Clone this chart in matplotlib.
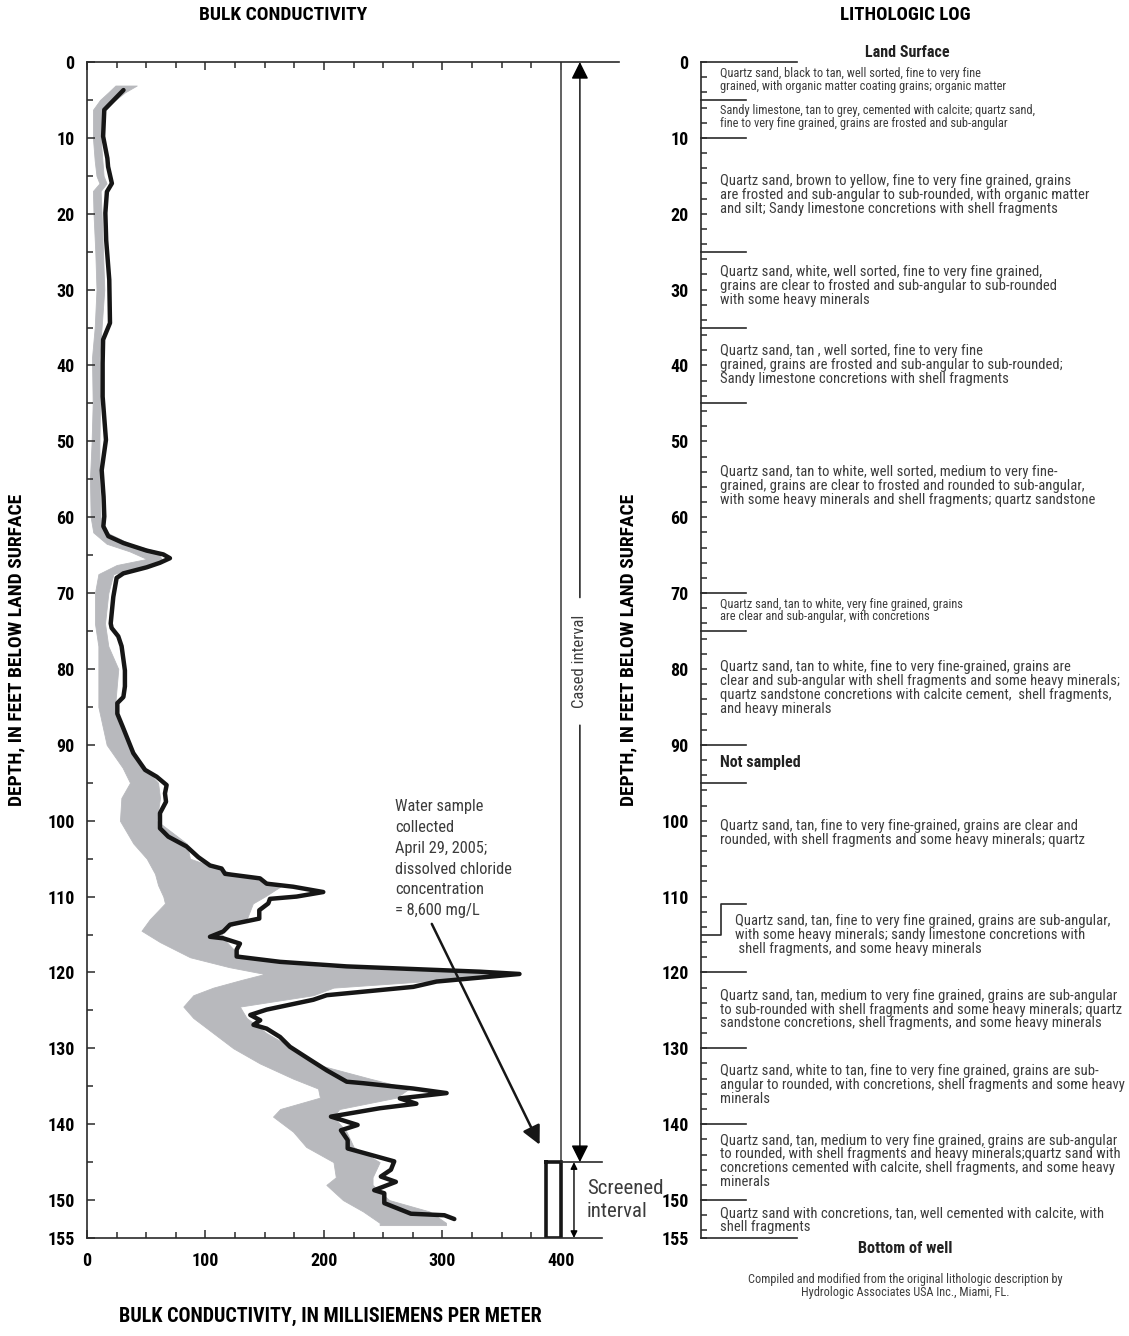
import matplotlib
matplotlib.use('Agg')
import matplotlib.pyplot as plt
from matplotlib.ticker import FixedLocator
import numpy as np

plt.rcParams['font.family'] = ['Roboto Condensed', 'Archivo Narrow', 'DejaVu Sans']

## data ##

# grey band (earlier logs), depth in feet, conductivity edges in mS/m
grey_depth = [3.1, 4.0, 5.0, 6.3, 10, 13, 15, 16, 17, 20, 25, 30, 35, 39, 45, 50, 55, 60,
              62, 63.5, 64.5, 65.5, 66.3, 67.5, 70, 74, 77, 80, 85, 90, 93, 95, 97, 100,
              103, 105, 107, 108.5, 110, 110.9, 113, 114.5, 116, 118, 119.3, 120.2, 121,
              122, 123, 124.5, 126, 128, 130, 132, 134, 135.3, 136.5, 138, 139, 141, 143,
              145, 147, 148, 150, 151.5, 153, 153.3]
grey_left = [24, 18, 11, 5, 5, 6.5, 8, 10.5, 5, 5.5, 7, 8, 6.5, 4.2, 4.8, 3.9, 2.5, 3.1,
             5.3, 16.6, 36, 50.4, 25, 9.6, 6.7, 6.7, 9.6, 9.6, 9.6, 16.6, 30, 36.3, 29, 27.8,
             39.1, 50.4, 57.4, 60, 64.4, 65.8, 53, 46, 61.6, 87, 120, 150, 130,
             106.6, 89.7, 81.3, 89.7, 106.6, 123.5, 146, 174, 195, 196.6, 163, 157, 174, 185,
             208, 210, 202, 216, 233, 247, 247]
grey_right = [42, 32, 24, 13, 11.5, 13, 14, 16.5, 11.5, 12.3, 13.5, 14.6, 12.3, 10.4, 11, 10.5, 10.4, 11.5,
              16.6, 36.3, 58.8, 63, 50, 22.2, 18, 15.2, 18, 26.4, 23.6, 36.3, 48, 60, 61.6, 58.8,
              84.1, 86.9, 123.5, 165, 150, 140, 134.7, 112.2, 117.9, 130, 200, 345, 300,
              208, 191, 129, 134.7, 151.6, 174, 191, 239, 272, 261, 213, 208, 219, 225,
              247, 241, 241, 255, 289, 303, 303]

# black curve (2005 log)
cond_depth = [3.7, 5.0, 6.3, 9.8, 12.7, 13.8, 16, 17.1, 19.9, 23.5, 28.7, 34.4, 36.6, 39.7,
              44.1, 49.8, 53.8, 57.3, 59.9, 61.2, 62.5, 63.4, 64.4, 64.9, 65.4, 66, 66.6,
              67.4, 68, 70.5, 74, 74.6, 75.7, 77, 80.2, 82.3, 83.7, 84.5, 85.9, 87.6, 91.1,
              93.3, 94.2, 95.3, 96.4, 97.5, 99, 101, 102.1, 103.4, 104.8, 105.9, 106.3, 107,
              107.6, 108.3, 108.7, 109.4, 110, 110.3, 110.9, 111.8, 112.9, 113.7, 114.6,
              115.3, 115.5, 116.2, 117, 117.9, 118.6, 119.2, 119.9, 120.2, 121.2, 121.9, 123,
              123.6, 124.9, 125.6, 126.3, 126.9, 127.4, 128.5, 129.8, 131.5, 132.9, 134.4,
              134.6, 135.3, 135.9, 136.6, 137.3, 137.9, 139, 140.1, 140.8, 142.1, 143.2,
              144.9, 146, 146.9, 147.6, 148.7, 149.1, 150.4, 151.8, 152, 152.5]
cond_value = [30.8, 22.7, 14.6, 13.6, 17.2, 17.8, 21, 16.8, 15.5, 16.2, 18.8, 19.4, 13.6, 13.2,
              13.2, 16, 12.4, 14, 14.6, 13.8, 18, 30.7, 50.4, 64.4, 70, 61.6, 50.4,
              30.7, 25, 22.2, 20, 20.8, 26.4, 29.2, 32, 32, 30.7, 25.6, 25.6, 30.1, 39.1,
              49, 58.8, 67.2, 65.8, 66.7, 61.6, 61.6, 68.6, 84.1, 93.9, 103.8, 113.6, 116.5,
              146, 151.6, 174, 199.4, 176.9, 154.4, 153, 145.4, 145.4, 120.7, 115,
              103.8, 115, 129.1, 126.3, 126.3, 162.9, 219, 331.6, 365, 295, 275.4, 202.3,
              191, 151.6, 137.8, 146.2, 140.5, 151.6, 162.9, 171.3, 188.2, 202.3, 219.2,
              233.3, 275.4, 303.5, 264, 278, 247, 205.9, 228.4, 214.3, 220, 220,
              259.3, 256.5, 248, 260.7, 242.4, 250.9, 250.9, 273.4, 301.6, 310]

# well construction
casing_bottom = 145
well_bottom = 155
casing_x = 400

# lithologic log
litho_bounds = [0, 5, 10, 25, 35, 45, 70, 75, 90, 95, 120, 130, 140, 150, 155]
litho_step = (111, 115)
litho_text = [
    "Quartz sand, black to tan, well sorted, fine to very fine\ngrained, with organic matter coating grains; organic matter",
    "Sandy limestone, tan to grey, cemented with calcite; quartz sand,\nfine to very fine grained, grains are frosted and sub-angular",
    "Quartz sand, brown to yellow, fine to very fine grained, grains\nare frosted and sub-angular to sub-rounded, with organic matter\nand silt; Sandy limestone concretions with shell fragments",
    "Quartz sand, white, well sorted, fine to very fine grained,\ngrains are clear to frosted and sub-angular to sub-rounded\nwith some heavy minerals",
    "Quartz sand, tan , well sorted, fine to very fine\ngrained, grains are frosted and sub-angular to sub-rounded;\nSandy limestone concretions with shell fragments",
    "Quartz sand, tan to white, well sorted, medium to very fine-\ngrained, grains are clear to frosted and rounded to sub-angular,\nwith some heavy minerals and shell fragments; quartz sandstone",
    "Quartz sand, tan to white, very fine grained, grains\nare clear and sub-angular, with concretions",
    "Quartz sand, tan to white, fine to very fine-grained, grains are\nclear and sub-angular with shell fragments and some heavy minerals;\nquartz sandstone concretions with calcite cement,  shell fragments,\nand heavy minerals",
    "Not sampled",
    "Quartz sand, tan, fine to very fine-grained, grains are clear and\nrounded, with shell fragments and some heavy minerals; quartz",
    "Quartz sand, tan, fine to very fine grained, grains are sub-angular,\nwith some heavy minerals; sandy limestone concretions with\n shell fragments, and some heavy minerals",
    "Quartz sand, tan, medium to very fine grained, grains are sub-angular\nto sub-rounded with shell fragments and some heavy minerals; quartz\nsandstone concretions, shell fragments, and some heavy minerals",
    "Quartz sand, white to tan, fine to very fine grained, grains are sub-\nangular to rounded, with concretions, shell fragments and some heavy\nminerals",
    "Quartz sand, tan, medium to very fine grained, grains are sub-angular\nto rounded, with shell fragments and heavy minerals;quartz sand with\nconcretions cemented with calcite, shell fragments, and some heavy\nminerals",
    "Quartz sand with concretions, tan, well cemented with calcite, with\nshell fragments",
]
litho_depth = [2.4, 7.2, 17.5, 29.5, 39.9, 55.9, 72.3, 82.5, 92.3, 101.6, 115.1, 124.9, 134.8, 144.9, 152.6]

## plot ##

GREY = '#b8b9bd'
TXT = '#3c3c3c'
SPINE = '#2a2a2a'

fig = plt.figure(figsize=(11.29, 13.36), dpi=100)

# --- bulk conductivity ---
ax = fig.add_axes([87 / 1129, 1 - 1238 / 1336, 532 / 1129, 1176 / 1336])
ax.fill_betweenx(grey_depth, grey_left, grey_right, color=GREY, lw=0.6, edgecolor=GREY)
ax.plot(cond_value, cond_depth, color='#161616', lw=3.2,
        solid_joinstyle='round', solid_capstyle='round')
ax.set_xlim(0, 449)
ax.set_ylim(well_bottom, 0)

ax.spines['right'].set_visible(False)
ax.spines['bottom'].set_bounds(0, 435)
for s in ['left', 'top', 'bottom']:
    ax.spines[s].set_linewidth(1.2)
    ax.spines[s].set_color(SPINE)

ax.set_xticks([0, 100, 200, 300, 400])
ax.xaxis.set_minor_locator(FixedLocator(np.arange(0, 401, 25)))
ax.set_yticks(list(range(0, 151, 10)) + [155])
ax.yaxis.set_minor_locator(FixedLocator(np.arange(0, 155, 5)))
ax.tick_params(which='both', direction='in', top=True, color=SPINE, width=1.1)
ax.tick_params(which='major', length=6)
ax.tick_params(which='minor', length=4)
ax.tick_params(axis='x', pad=10)
ax.tick_params(axis='y', pad=9)
for lab in ax.get_xticklabels() + ax.get_yticklabels():
    lab.set_fontweight('bold')
    lab.set_fontsize(13)

# casing line and screen
ax.plot([casing_x, casing_x], [0, well_bottom], color='#555555', lw=1.3)
ax.plot([387, 387, casing_x, casing_x, 387], [casing_bottom, well_bottom, well_bottom, casing_bottom, casing_bottom],
        color='#161616', lw=2.6, solid_joinstyle='miter')
ax.plot([casing_x, 435], [casing_bottom, casing_bottom], color=SPINE, lw=1.2)

# cased interval arrows
ax.annotate('', xy=(416, 0), xytext=(416, 70.6),
            arrowprops=dict(arrowstyle='-|>', mutation_scale=26, lw=1.0, color='black',
                            shrinkA=0, shrinkB=0))
ax.annotate('', xy=(416, casing_bottom), xytext=(416, 87.4),
            arrowprops=dict(arrowstyle='-|>', mutation_scale=26, lw=1.0, color='black',
                            shrinkA=0, shrinkB=0))
ax.text(416, 79, 'Cased interval', rotation=90, ha='center', va='center',
        fontsize=12, color=TXT)
ax.annotate('', xy=(411, casing_bottom), xytext=(411, well_bottom),
            arrowprops=dict(arrowstyle='<|-|>', mutation_scale=10, lw=1.0, color='black',
                            shrinkA=0, shrinkB=0))
ax.text(422, 150, 'Screened\ninterval', ha='left', va='center', fontsize=15,
        color=TXT, linespacing=1.25)

# water sample
ax.text(260, 105, 'Water sample\ncollected\nApril 29, 2005;\ndissolved chloride\nconcentration\n= 8,600 mg/L',
        ha='left', va='center', fontsize=11.8, color=TXT, linespacing=1.48)
ax.annotate('', xy=(382, 142.7), xytext=(291, 113.6),
            arrowprops=dict(arrowstyle='-|>', mutation_scale=28, lw=1.8, color='#161616',
                            shrinkA=0, shrinkB=0))

fig.text(283 / 1129, 1 - 15 / 1336, 'BULK CONDUCTIVITY', ha='center', va='center',
         fontsize=14, fontweight='bold')
fig.text(16 / 1129, 1 - 650 / 1336, 'DEPTH, IN FEET BELOW LAND SURFACE', rotation=90,
         ha='center', va='center', fontsize=14, fontweight='bold')
fig.text(330 / 1129, 1 - 1316 / 1336, 'BULK CONDUCTIVITY, IN MILLISIEMENS PER METER',
         ha='center', va='center', fontsize=14.5, fontweight='bold')

# --- lithologic log ---
ax2 = fig.add_axes([701 / 1129, 1 - 1238 / 1336, 428 / 1129, 1176 / 1336])
ax2.set_xlim(0, 1)
ax2.set_ylim(well_bottom, 0)
for s in ['top', 'right', 'bottom']:
    ax2.spines[s].set_visible(False)
ax2.spines['left'].set_linewidth(1.2)
ax2.spines['left'].set_color(SPINE)
ax2.set_xticks([])
ax2.set_yticks(list(range(0, 151, 10)) + [155])
ax2.yaxis.set_minor_locator(FixedLocator(np.arange(0, 155, 2)))
ax2.tick_params(which='both', direction='in', color=SPINE, width=1.1, length=4)
ax2.tick_params(axis='y', pad=9)
for lab in ax2.get_yticklabels():
    lab.set_fontweight('bold')
    lab.set_fontsize(13)

for b in litho_bounds:
    w = 0.224 if b in (0, well_bottom) else 0.104
    ax2.plot([0, w], [b, b], color=SPINE, lw=1.2, clip_on=False)
s0, s1 = litho_step
ax2.plot([0.104, 0.047, 0.047, 0], [s0, s0, s1, s1], color=SPINE, lw=1.2)

small = {0, 1, 6}
for i, (d, t) in enumerate(zip(litho_depth, litho_text)):
    x = 0.079 if i == 10 else 0.044
    if t == 'Not sampled':
        ax2.text(x, d, t, ha='left', va='center', fontsize=11.5, fontweight='bold', color='#222222')
    else:
        ax2.text(x, d, t, ha='left', va='center', fontsize=8.9 if i in small else 10.5,
                 color=TXT, linespacing=0.98)

ax2.text(0.483, -1.3, 'Land Surface', ha='center', va='center', fontsize=11.5,
         fontweight='bold', color='#222222')
ax2.text(0.478, 156.4, 'Bottom of well', ha='center', va='center', fontsize=11.7,
         fontweight='bold', color='#222222', clip_on=False)
ax2.text(0.478, 161.3, 'Compiled and modified from the original lithologic description by\nHydrologic Associates USA Inc., Miami, FL.',
         ha='center', va='center', fontsize=8.8, color=TXT, linespacing=0.95, clip_on=False)

fig.text(905 / 1129, 1 - 15 / 1336, 'LITHOLOGIC LOG', ha='center', va='center',
         fontsize=13.5, fontweight='bold')
fig.text(628 / 1129, 1 - 650 / 1336, 'DEPTH, IN FEET BELOW LAND SURFACE', rotation=90,
         ha='center', va='center', fontsize=14, fontweight='bold')

fig.savefig('out.png', dpi=100)
